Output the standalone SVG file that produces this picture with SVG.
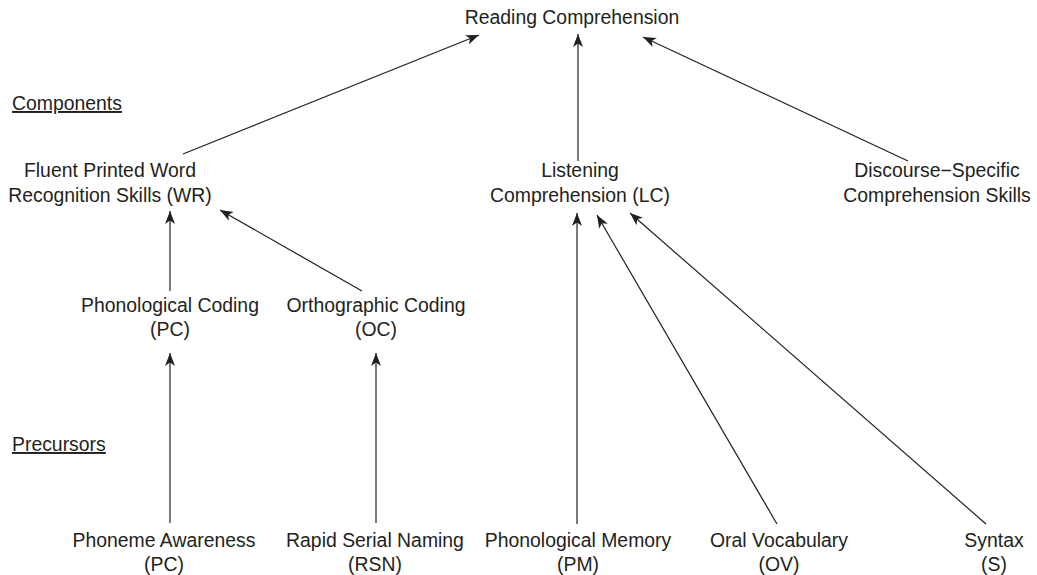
<svg xmlns="http://www.w3.org/2000/svg" width="1037" height="575" viewBox="0 0 1037 575">
<style>
.t{font-family:"Liberation Sans",Arial,Helvetica,sans-serif;font-size:19.4px;fill:#231f20;text-anchor:middle}
.h{text-anchor:start;text-decoration:underline}
.c{stroke:#231f20;stroke-width:1.2;fill:none;marker-end:url(#ah)}
</style>
<defs>
<marker id="ah" viewBox="0 0 13 10" refX="13" refY="5" markerWidth="13" markerHeight="10" markerUnits="userSpaceOnUse" orient="auto">
<path d="M0,0 L13,5 L0,10 L3.5,5 Z" fill="#231f20"/>
</marker>
</defs>
<rect width="1037" height="575" fill="#ffffff"/>
<g id="connectors">
<line class="c" x1="183" y1="154" x2="479" y2="35"/>
<line class="c" x1="578" y1="161" x2="578" y2="34"/>
<line class="c" x1="908" y1="161" x2="643" y2="37"/>
<line class="c" x1="170" y1="291" x2="170" y2="211"/>
<line class="c" x1="362" y1="291" x2="220" y2="210"/>
<line class="c" x1="170" y1="523" x2="170" y2="353"/>
<line class="c" x1="376" y1="523" x2="376" y2="353"/>
<line class="c" x1="577" y1="524" x2="577" y2="213"/>
<line class="c" x1="777" y1="524" x2="597" y2="215"/>
<line class="c" x1="986" y1="524" x2="630" y2="213"/>
</g>
<g id="reading-comprehension"><text class="t" x="572" y="24">Reading Comprehension</text></g>
<g id="label-components"><text class="t h" x="12" y="110">Components</text></g>
<g id="label-precursors"><text class="t h" x="12" y="451">Precursors</text></g>
<g id="wr"><text class="t"><tspan x="110" y="177">Fluent Printed Word</tspan><tspan x="110" y="201.5">Recognition Skills (WR)</tspan></text></g>
<g id="lc"><text class="t"><tspan x="580" y="177">Listening</tspan><tspan x="580" y="201.5">Comprehension (LC)</tspan></text></g>
<g id="ds"><text class="t"><tspan x="937" y="177">Discourse−Specific</tspan><tspan x="937" y="201.5">Comprehension Skills</tspan></text></g>
<g id="pc"><text class="t"><tspan x="170" y="312">Phonological Coding</tspan><tspan x="170" y="336">(PC)</tspan></text></g>
<g id="oc"><text class="t"><tspan x="376" y="312">Orthographic Coding</tspan><tspan x="376" y="336">(OC)</tspan></text></g>
<g id="pa"><text class="t"><tspan x="164" y="547">Phoneme Awareness</tspan><tspan x="164" y="571">(PC)</tspan></text></g>
<g id="rsn"><text class="t"><tspan x="375" y="547">Rapid Serial Naming</tspan><tspan x="375" y="571">(RSN)</tspan></text></g>
<g id="pm"><text class="t"><tspan x="578" y="547">Phonological Memory</tspan><tspan x="578" y="571">(PM)</tspan></text></g>
<g id="ov"><text class="t"><tspan x="779" y="547">Oral Vocabulary</tspan><tspan x="779" y="571">(OV)</tspan></text></g>
<g id="s"><text class="t"><tspan x="994" y="547">Syntax</tspan><tspan x="994" y="571">(S)</tspan></text></g>
</svg>
